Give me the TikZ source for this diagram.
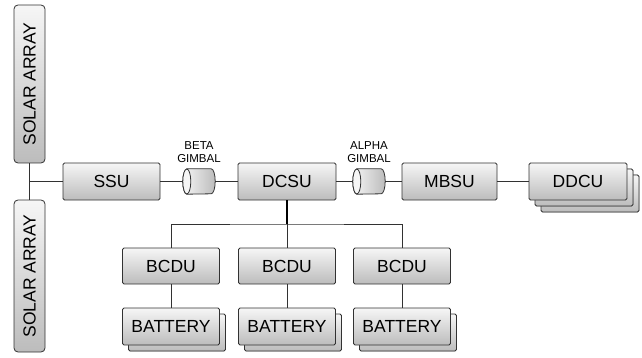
\documentclass[tikz,border=0pt]{standalone}
\usepackage{fontspec}
\setmainfont{Liberation Sans}
\definecolor{borde}{RGB}{50,50,50}
\definecolor{claro}{RGB}{246,246,246}
\definecolor{oscuro}{RGB}{188,188,188}
\usepackage{tikz}
\usetikzlibrary{shadows,positioning,calc}

\begin{document}
\begin{tikzpicture}[x=1pt,y=-1pt,
    blk/.style={draw=borde,line width=0.8pt,rounded corners=1.5pt,top color=claro,bottom color=oscuro,
                minimum height=37pt,inner sep=0pt,
                font=\fontsize{17.5pt}{20pt}\selectfont},
    pila/.style={blk,double copy shadow={shadow xshift=6pt,shadow yshift=-6pt,
                draw=borde,line width=0.8pt,top color=claro,bottom color=oscuro}},
    pila1/.style={blk,copy shadow={shadow xshift=6pt,shadow yshift=-6pt,
                draw=borde,line width=0.8pt,top color=claro,bottom color=oscuro}},
    gimbal/.style={minimum height=25pt,minimum width=32pt,inner sep=0pt},
    cuerpo/.style={draw=borde,line width=0.8pt,left color=claro,right color=oscuro},
    etq/.style={align=center,font=\fontsize{11.5pt}{12.5pt}\selectfont},
    con/.style={draw=borde,line width=0.8pt}]
      \useasboundingbox (0,0) rectangle (642,358);

      % paneles solares
      \node[blk,rounded corners=4pt,rotate=90,minimum width=158pt,minimum height=31pt]
        (sa1) at (29.5,84) {SOLAR ARRAY};
      \node[blk,rounded corners=4pt,rotate=90,minimum width=152pt,minimum height=31pt]
        (sa2) at (29.5,276) {SOLAR ARRAY};
      \coordinate (j) at (29.5,181.5);

      % cadena principal
      \node[blk,minimum width=97pt] (ssu)  at (111.5,181.5) {SSU};
      \node[gimbal] (beta)  at (199,181.5) {};
      \node[blk,minimum width=98pt] (dcsu) at (287,181.5) {DCSU};
      \node[gimbal] (alpha) at (369,181.5) {};
      \node[blk,minimum width=95pt] (mbsu) at (449.5,181.5) {MBSU};
      \node[pila,minimum width=98pt] (ddcu) at (578,181.5) {DDCU};

      \node[etq,above=3pt of beta]  (lbeta)  {BETA\\GIMBAL};
      \node[etq,above=3pt of alpha] (lalpha) {ALPHA\\GIMBAL};

      % cilindros de los gimbals
      \foreach \g in {beta,alpha}{
        \path[cuerpo] ($(\g.north west)+(4,0)$) -- ($(\g.north east)+(-4,0)$)
          arc[start angle=90,end angle=-90,x radius=4pt,y radius=12.5pt]
          -- ($(\g.south west)+(4,0)$)
          arc[start angle=270,end angle=90,x radius=4pt,y radius=12.5pt] -- cycle;
        \draw[borde,line width=0.8pt,fill=claro] ($(\g.west)+(4,0)$)
          ellipse[x radius=4pt,y radius=12.5pt];
      }

      \draw[con] (sa1.west) -- (sa2.east);
      \draw[con] (j) -- (ssu.west);
      \draw[con] (ssu.east) -- (beta.west);
      \draw[con] (beta.east) -- (dcsu.west);
      \draw[con] (dcsu.east) -- (alpha.west);
      \draw[con] (alpha.east) -- (mbsu.west);
      \draw[con] (mbsu.east) -- (ddcu.west);

      % cargadores y baterias
      \coordinate (bus) at (287,224);
      \foreach \i/\x in {1/171,2/287,3/402}{
        \node[blk,minimum width=97pt,minimum height=36pt] (bcdu\i) at (\x,266) {BCDU};
        \node[pila1,minimum width=97pt] (bat\i) at (\x,326.5) {BATTERY};
        \draw[con] (bcdu\i.south) -- (bat\i.north);
      }
      \draw[con] (bcdu1.north) |- (bus) -| (bcdu3.north);
      \draw[con] (bus) -- (bcdu2.north);
      \draw[line width=2pt] (dcsu.south) -- (bus);
    \end{tikzpicture}
\end{document}
